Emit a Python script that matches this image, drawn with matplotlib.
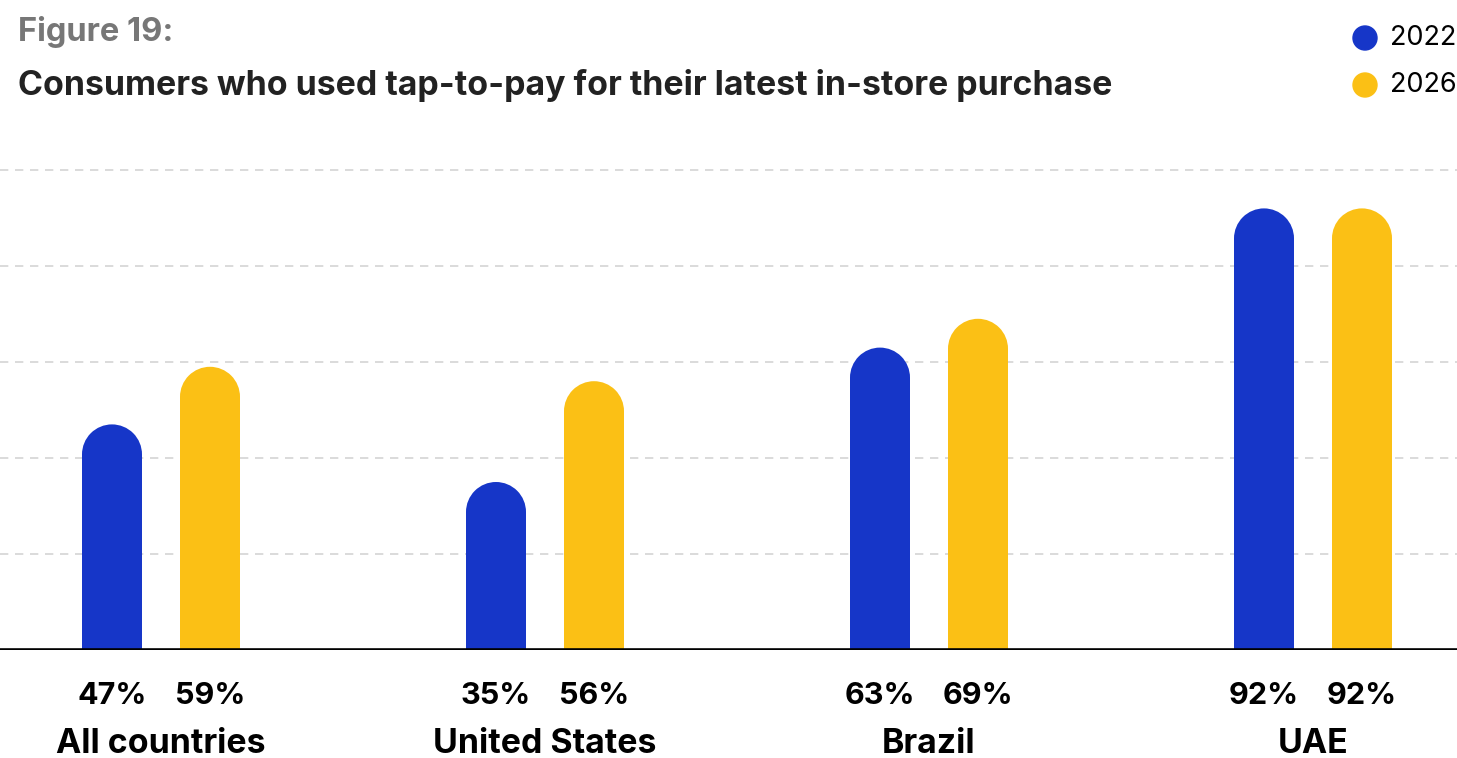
import matplotlib.pyplot as plt
from matplotlib.patches import Ellipse
import numpy as np

# categories and survey shares (%)
countries = ['All countries', 'United States', 'Brazil', 'UAE']
shares_2022 = [47, 35, 63, 92]
shares_2026 = [59, 56, 69, 92]
years = ['2022', '2026']

blue = '#1636c8'
yellow = '#fbc015'

plt.rcParams['font.family'] = ['Inter', 'DejaVu Sans']

W, H = 1457, 758
fig = plt.figure(figsize=(W / 100, H / 100), dpi=100)

# plot area: baseline at y=650px, 100% gridline at y=170px
base_px, top_px = 650, 150
ax = fig.add_axes([0, 1 - base_px / H, 1, (base_px - top_px) / H])
px_per_pct = (650 - 170) / 100
ax.set_ylim(0, (base_px - top_px) / px_per_pct)

group_px = 384
ax.set_xlim(-161 / group_px, (W - 161) / group_px)

x = np.arange(len(countries))
off = 49 / group_px
bw = 60 / group_px
r = 30 / px_per_pct  # cap radius in % units

for vals, dx, col in [(shares_2022, -off, blue), (shares_2026, off, yellow)]:
    for xi, v in zip(x, vals):
        ax.bar(xi + dx, v - r, width=bw, color=col, zorder=3, linewidth=0)
        ax.add_patch(Ellipse((xi + dx, v - r), bw, 2 * r, color=col,
                             zorder=3, linewidth=0))

# grid and baseline
for g in [20, 40, 60, 80, 100]:
    ax.axhline(g, color='#d4d4d4', lw=1.2, ls=(0, (5, 4)), zorder=1)
ax.axhline(0, color='black', lw=2.6, zorder=4)

for s in ax.spines.values():
    s.set_visible(False)
ax.set_xticks([])
ax.set_yticks([])

# value and category labels under the axis
to_y = lambda px: 1 - px / H
x0, x1 = ax.get_xlim()
for xi, a, b, name in zip(x, shares_2022, shares_2026, countries):
    for xv, v in [(xi - off, a), (xi + off, b)]:
        fig.text((xv - x0) / (x1 - x0), to_y(704), f'{v}%', ha='center',
                 va='baseline', fontsize=22, fontweight='bold', color='black')
    fig.text((xi - x0) / (x1 - x0), to_y(753), name, ha='center',
             va='baseline', fontsize=24.4, fontweight='bold', color='black')

# headings
fig.text(18 / W, to_y(41), 'Figure 19:', fontsize=23.5, fontweight='bold',
         color='#777777', va='baseline')
fig.text(18 / W, to_y(95), 'Consumers who used tap-to-pay for their latest in-store purchase',
         fontsize=24.4, fontweight='bold', color='#222222', va='baseline')

# legend
for yy, col, lab in [(38, blue, years[0]), (85, yellow, years[1])]:
    fig.patches.append(Ellipse((1365 / W, to_y(yy)), 24 / W, 24 / H, color=col,
                               transform=fig.transFigure, figure=fig))
    fig.text(1390 / W, to_y(yy), lab, fontsize=19.5, color='black', va='center')

fig.savefig('out.png', dpi=100)
